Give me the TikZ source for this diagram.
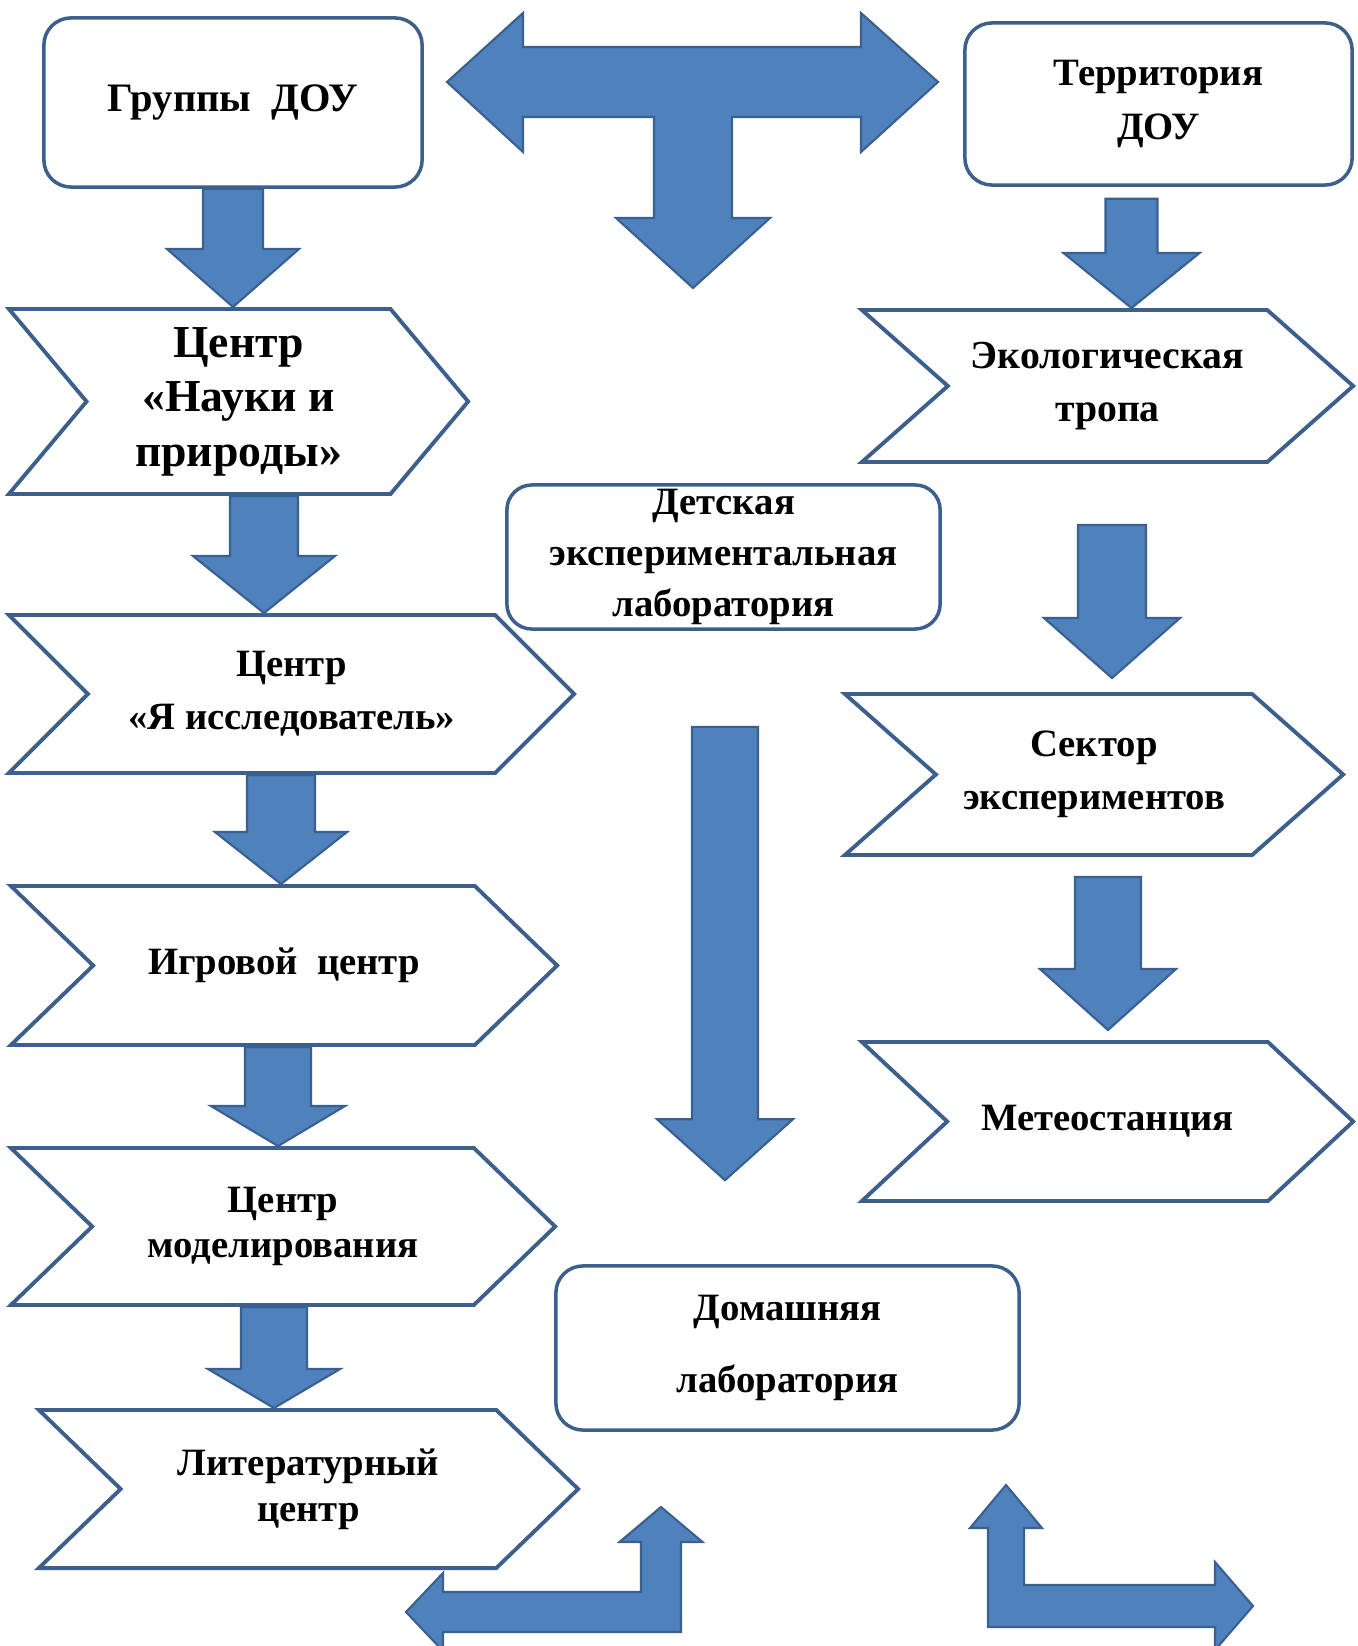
\documentclass[tikz,border=0pt]{standalone}
\usepackage{fontspec}
\setmainfont{Liberation Serif}
\usetikzlibrary{shapes.symbols,calc}

\definecolor{arrowblue}{HTML}{4F81BD}
\definecolor{arrowedge}{HTML}{3A6090}
\definecolor{lineblue}{HTML}{3D5F8C}

% fat down arrow: start, end (only its y is used), half stem, half head, head length
\newcommand{\fatdown}[5]{%
  \draw[fatarrow] let \p1=(#1), \p2=(#2) in
    ($(\x1,\y1)+(-#3,0)$) -- ($(\x1,\y1)+(#3,0)$) -- ($(\x1,\y2)+(#3,-#5)$)
    -- ($(\x1,\y2)+(#4,-#5)$) -- (\x1,\y2) -- ($(\x1,\y2)+(-#4,-#5)$)
    -- ($(\x1,\y2)+(-#3,-#5)$) -- cycle;}

\begin{document}
\begin{tikzpicture}[x=0.01cm, y=-0.01cm]
 \tikzstyle{box}=[rectangle, rounded corners=0.27cm, draw=lineblue, line width=1pt, fill=white, inner sep=1pt, align=center, font=\fontsize{11}{15.4}\selectfont\bfseries]
 \tikzstyle{chev}=[signal, signal from=west, signal to=east, signal pointer angle=88, draw=lineblue, line width=1.1pt, fill=white, inner sep=0pt, align=center, font=\fontsize{11}{15}\selectfont\bfseries]
 \tikzstyle{fatarrow}=[fill=arrowblue, draw=arrowedge, line width=0.6pt, line join=miter]

\clip (0,0) rectangle (1357,1646);
\fill[white] (0,0) rectangle (1357,1646);

% top
\node[box, minimum width=3.78cm, minimum height=1.69cm, font=\fontsize{11.5}{15}\selectfont\bfseries] (grp) at (233,102.5) {Группы\ \ ДОУ};
\node[box, minimum width=3.87cm, minimum height=1.62cm] (terr) at (1158.5,104) {Территория\\ДОУ};

% left column
\node[chev, signal pointer angle=100, minimum width=4.59cm, minimum height=1.85cm, font=\fontsize{13}{15.5}\selectfont\bfseries] (nauki) at (238.5,401.5) {Центр\\«Науки и\\природы»};
\node[chev, signal pointer angle=90, minimum width=5.65cm, minimum height=1.58cm] (yais) at (291.5,694) {Центр\\«Я исследователь»};
\node[chev, minimum width=5.46cm, minimum height=1.59cm] (igr) at (284,965.5) {Игровой\ \ центр};
\node[chev, minimum width=5.44cm, minimum height=1.57cm, font=\fontsize{11}{13}\selectfont\bfseries] (model) at (283,1226.5) {Центр\\моделирования};
\node[chev, minimum width=5.39cm, minimum height=1.58cm, font=\fontsize{11}{13}\selectfont\bfseries] (lit) at (308.5,1489) {Литературный\\центр};

% middle
\node[box, rounded corners=0.25cm, minimum width=4.33cm, minimum height=1.44cm, font=\fontsize{11}{14.5}\selectfont\bfseries] (det) at (723.5,557) {Детская\\экспериментальная\\лаборатория};
\node[box, minimum width=4.63cm, minimum height=1.64cm, font=\fontsize{11}{20.5}\selectfont\bfseries] (dom) at (787.5,1348) {Домашняя\\лаборатория};

% right column
\node[chev, signal pointer angle=83, minimum width=4.91cm, minimum height=1.52cm, font=\fontsize{11.3}{15}\selectfont\bfseries] (eko) at (1107.5,386) {Экологическая\\тропа};
\node[chev, signal pointer angle=83, minimum width=4.98cm, minimum height=1.61cm] (sekt) at (1094,774.5) {Сектор\\экспериментов};
\node[chev, signal pointer angle=86, minimum width=4.91cm, minimum height=1.59cm] (meteo) at (1107.5,1121.5) {Метеостанция};

% down arrows
\fatdown{grp.south}{nauki.north}{30}{66}{58}
\fatdown{$(terr.south)+(-27,12)$}{eko.north}{26}{68}{55}
\fatdown{$(nauki.south)+(25.5,0)$}{yais.north}{34}{71}{57}
\fatdown{$(yais.south)+(-10.5,0)$}{igr.north}{34}{66}{52}
\fatdown{$(igr.south)+(-6,0)$}{model.north}{33}{67}{40}
\fatdown{$(model.south)+(-9,0)$}{lit.north}{33}{66}{39}
\fatdown{$(eko.south)+(4.5,61)$}{$(sekt.north)+(0,-14)$}{34}{68}{60}
\fatdown{$(sekt.south)+(14,20)$}{$(meteo.north)+(0,-10)$}{33}{68}{61}
\fatdown{$(det.south)+(1.5,96)$}{$(dom.north)+(0,-84)$}{33}{68}{61}

% T arrow between the two top boxes
\coordinate (hub) at (693,82);
\draw[fatarrow, shift={(hub)}] (-246,0) -- (-170,-69) -- (-170,-35) -- (168,-35) -- (168,-69)
  -- (245,0) -- (168,70) -- (168,35) -- (39,35) -- (39,136) -- (77,136) -- (0,206)
  -- (-77,136) -- (-39,136) -- (-39,35) -- (-170,35) -- (-170,70) -- cycle;

% bottom corner arrows
\coordinate (lc) at (661,1612);
\draw[fatarrow, shift={(lc)}] (-255,0) -- (-218,-39) -- (-218,-20) -- (-20,-20) -- (-20,-70)
  -- (-41.5,-70) -- (0,-105) -- (41.5,-70) -- (20,-70) -- (20,20) -- (-218,20) -- (-218,39) -- cycle;
\coordinate (rc) at (1006,1606);
\draw[fatarrow, shift={(rc)}] (0,-121) -- (36,-78) -- (18,-78) -- (18,-21) -- (209,-21) -- (209,-44)
  -- (247,0) -- (209,44) -- (209,21) -- (-18,21) -- (-18,-78) -- (-36,-78) -- cycle;
\end{tikzpicture}
\end{document}
